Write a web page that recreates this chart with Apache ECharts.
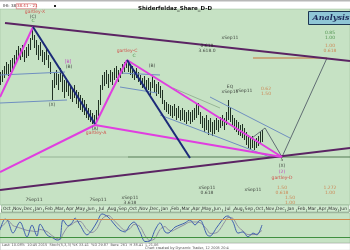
<!DOCTYPE html>
<html><head><meta charset="utf-8">
<script src="https://cdn.jsdelivr.net/npm/echarts@6/dist/echarts.min.js"></script>
<style>html,body{margin:0;padding:0;background:#fff}#c{width:350px;height:250px}</style>
</head><body><div id="c"></div>
<script>
// ---- price bars (daily highs / lows, one entry per bar) ----
const highs = [138,140,144,148,146,150,152,155,160,164,
  162,165,160,163,166,172,183,175,170,165,
  168,160,158,162,155,148,130,138,140,136,
  142,135,130,132,128,125,122,125,120,118,
  115,112,110,106,102,100,97,95,100,110,
  125,135,138,140,136,140,138,142,144,140,
  142,146,148,150,148,146,144,140,142,138,
  135,132,134,130,132,128,134,130,126,128,
  124,120,110,108,106,105,104,106,102,104,
  100,102,100,98,100,98,100,102,106,107,
  98,94,92,95,90,92,88,90,92,90,
  93,95,92,98,110,102,95,92,90,88,
  85,86,82,78,75,72,74,70,72,74,
  78,80];
const lows = [125,128,132,135,134,138,140,144,148,152,
  150,153,148,152,154,160,170,162,155,150,
  154,148,145,150,142,136,110,122,125,120,
  128,118,112,118,114,111,108,112,106,102,
  100,98,95,92,90,88,86,86,88,94,
  105,120,124,126,122,128,125,130,132,128,
  132,136,138,142,138,135,132,130,132,128,
  125,122,124,118,120,115,122,118,114,116,
  112,106,100,98,96,94,92,94,90,92,
  89,90,88,86,89,86,88,90,92,95,
  86,82,78,80,75,78,74,76,80,78,
  82,84,80,85,90,88,84,80,78,75,
  74,72,70,65,62,60,62,60,62,64,
  66,68];

// ---- trend lines / pattern legs (bar index, price) ----
const upperTrend = [[2.5,187],[175,149]];
const lowerTrend = [[0,20],[175,62]];
const gartleyLegs = [
  [[0,113],[16.5,183]],
  [[0,38],[47.5,85]],
  [[47.5,85],[63.5,150]],
  [[63.5,150],[141,53]],
  [[47.5,85],[141,53]]
];
const navyLegs = [
  [[16.5,183],[47.5,86]],
  [[63.5,150],[95,52]]
];
const channelLines = [
  [[0,135],[32.5,138]],
  [[0,107],[33.5,110]],
  [[60,137],[80,135]],
  [[60,123],[78.5,117]],
  [[80,95],[135,53]],
  [[105,113],[145,72]]
];
const helperLines = [
  [[86.5,122],[110,102]],
  [[20,53],[64,53]]
];
const projection = [[126,72],[132.5,82],[141,53],[163.5,152]];
const targetLevel = [[126.5,152],[163.5,152]];
const supportLevel = [[64,53],[175,53]];

// ---- annotations [bar index, price, text] ----
const redLabels = [[17.5,198,'gartley-X'],[48,77,'gartley-A'],[63.5,159,'gartley-C'],[141,32,'gartley-D']];
const darkLabels = [[16.5,193,'(C)'],[34.5,143,'(B)'],[26,105,'(X)'],[47.5,81,'(A)'],[76,144,'(B)'],
  [141,50,'5'],[141,44,'(X)'],
  [103.5,162,'0.618\n3.618.0'],[115,172,'xSep11'],[115,121,'EQ\nxSep11'],[122,119,'xSep11'],
  [17,10,'7Sep11'],[49,10,'7Sep11'],[65,10,'xSep11\n3.618'],[103.5,20,'xSep11\n0.618'],[126.5,20,'xSep11']];
const magentaLabels = [[34,148,'[B]'],[141,38,'(2)']];
const greenLabels = [[16.5,189,'C'],[67,154,'C'],[165,175,'0.85\n1.00']];
const orangeLabels = [[165,162,'1.00\n0.618'],[133,119,'0.62\n1.50'],[141,20,'1.50\n0.618'],[145,10,'1.50\n1.00'],[165,20,'1.272\n1.00']];

// ---- date strip ----
const months = ['Oct','Nov','Dec','Jan','Feb','Mar','Apr','May','Jun','Jul','Aug','Sep',
  'Oct','Nov','Dec','Jan','Feb','Mar','Apr','May','Jun','Jul','Aug','Sep',
  'Oct','Nov','Dec','Jan','Feb','Mar','Apr','May','Jun'];

// ---- stochastic oscillator ----
const stochX = [0,2.5,4,6.5,10,13.5,16,18.5,20,23.5,26.5,28.5,30,31.5,34,36,37.5,40,43.5,46,48.5,51,54,57.5,60,62.5,65,67,70,72.5,75,77.5,80,82.5,84,86,87.5,92.5,95,97.5,100,103.5,105,108.5,112.5,114,116.5,119,121.5,124,126.5,128.5,131];
const stochK = [43,80,73,33,70,20,60,23,63,27,17,10,13,77,57,67,83,60,27,43,70,97,87,60,43,37,60,70,37,5,7,43,67,37,33,43,53,67,77,60,77,27,23,53,87,90,70,33,37,20,33,27,60];
const stochD = [50,65,75,58,50,42,40,38,45,38,22,15,12,30,55,62,70,72,45,35,48,80,92,72,55,42,48,62,55,25,8,15,45,55,45,40,45,62,70,70,68,45,32,35,72,85,82,55,40,28,28,30,42];

const chart = echarts.init(document.getElementById('c'), null, {renderer:'canvas'});
const FONT = 'DejaVu Sans';
function seg(data, color, width, z){
  return {type:'line', xAxisIndex:0, yAxisIndex:0, data:data, showSymbol:false, symbol:'none',
    lineStyle:{color:color, width:width}, silent:true, z:z||3, animation:false};
}
function labels(arr, color, bold){
  return {type:'scatter', xAxisIndex:0, yAxisIndex:0, symbolSize:0, z:10, silent:true,
    data: arr.map(a => ({value:[a[0],a[1]], name:a[2]})),
    label:{show:true, position:'inside', formatter:p=>p.name, color:color, fontSize:4.5,
      lineHeight:5, fontFamily:FONT, fontWeight: bold?'bold':'normal'}};
}
const series = [];
series.push({type:'custom', xAxisIndex:0, yAxisIndex:0, z:2, silent:true,
  data: highs.map((h,i)=>[i,h,lows[i]]),
  renderItem:function(params, api){
    const a = api.coord([api.value(0), api.value(1)]);
    const b = api.coord([api.value(0), api.value(2)]);
    return {type:'line', shape:{x1:a[0]+0.5,y1:a[1],x2:b[0]+0.5,y2:b[1]}, style:{stroke:'#213224', lineWidth:1}};
  }});
helperLines.forEach(d=>series.push(seg(d,'#8aa88a',0.8,2)));
channelLines.forEach(d=>series.push(seg(d,'#6f8fc0',1,3)));
series.push(seg(supportLevel,'#557a55',1.2,3));
series.push(seg(targetLevel,'#c8743a',1,3));
series.push(seg(projection,'#55606a',0.9,3));
series.push(seg(upperTrend,'#5b2463',2,4));
series.push(seg(lowerTrend,'#5b2463',2,4));
gartleyLegs.forEach(d=>series.push(seg(d,'#e03ee0',2,5)));
navyLegs.forEach(d=>series.push(seg(d,'#1b2a78',2,5)));
series.push(labels(redLabels,'#d42a2a',false));
series.push(labels(darkLabels,'#1c1c1c',false));
series.push(labels(magentaLabels,'#c020c0',false));
series.push(labels(greenLabels,'#2f7f2f',false));
series.push(labels(orangeLabels,'#d0703a',false));
// date strip dummy
series.push({type:'line', xAxisIndex:1, yAxisIndex:1, data:[], silent:true});
// oscillator
series.push({type:'line', xAxisIndex:2, yAxisIndex:2, data: stochX.map((x,i)=>[x,stochD[i]]),
  showSymbol:false, smooth:0.3, lineStyle:{color:'#8e8ea0', width:1}, silent:true, z:3,
  markLine:{silent:true, symbol:'none', label:{show:false},
    data:[{yAxis:80, lineStyle:{color:'#d08a4a', width:1, type:'solid'}},
          {yAxis:20, lineStyle:{color:'#3f8f3f', width:1, type:'solid'}}]}});
series.push({type:'line', xAxisIndex:2, yAxisIndex:2, data: stochX.map((x,i)=>[x,stochK[i]]),
  showSymbol:false, smooth:0.3, lineStyle:{color:'#3f5fae', width:1}, silent:true, z:4});

chart.setOption({
  animation:false,
  backgroundColor:'#ffffff',
  title:{text:'Shiderfeldaz_Share_D-D', left:'center', top:1,
    textStyle:{fontSize:5.5, fontWeight:'bold', color:'#111', fontFamily:FONT}},
  grid:[
    {left:0, right:0, top:9, height:196, show:true, backgroundColor:'#c6e2c4', borderColor:'#9ab89a', borderWidth:0.5},
    {left:0, right:0, top:205, height:7, show:true, backgroundColor:'#d0e9cf', borderColor:'#7f9f7f', borderWidth:0.5},
    {left:0, right:0, top:213, height:30, show:true, backgroundColor:'#c6e2c4', borderColor:'#9ab89a', borderWidth:0.5}
  ],
  xAxis:[
    {type:'value', gridIndex:0, min:0, max:175, show:false},
    {type:'category', gridIndex:1, data:months, boundaryGap:true,
      axisLine:{show:true, lineStyle:{color:'#6f8f6f', width:0.5}},
      axisTick:{show:true, inside:true, length:3, interval:0, lineStyle:{color:'#4f6f4f', width:0.5}},
      axisLabel:{show:true, inside:true, interval:0, margin:1, fontSize:4.5, color:'#333', fontFamily:FONT},
      splitLine:{show:false}},
    {type:'value', gridIndex:2, min:0, max:175, show:false}
  ],
  yAxis:[
    {type:'value', gridIndex:0, min:5, max:201, show:false},
    {type:'value', gridIndex:1, show:false},
    {type:'value', gridIndex:2, min:0, max:100, show:false}
  ],
  graphic:[
    {type:'rect', left:0, top:0, shape:{width:350, height:1.5}, style:{fill:'#b8b8b8'}, z:100},
    {type:'text', left:3, top:4, style:{text:'IHI: 38', fontSize:4, fill:'#333', fontFamily:FONT}, z:100},
    {type:'rect', left:16, top:3.5, shape:{width:20, height:5}, style:{fill:'#fff', stroke:'#c44', lineWidth:0.5}, z:100},
    {type:'text', left:17, top:4, style:{text:'38.41 - 21', fontSize:4, fill:'#c33', fontFamily:FONT}, z:101},
    {type:'rect', left:54, top:5, shape:{width:2, height:2}, style:{fill:'#222'}, z:100},
    {type:'group', left:308, top:11, z:100, children:[
      {type:'rect', shape:{x:0,y:0,width:44,height:13}, style:{fill:'#8fc6d6', stroke:'#1d3552', lineWidth:1}},
      {type:'text', x:4, y:2.5, style:{text:'Analysis by:', fontSize:8, fontStyle:'italic', fontWeight:'bold', fill:'#1d2a58', fontFamily:'DejaVu Serif'}}
    ]},
    {type:'rect', left:0, top:243, shape:{width:350, height:7}, style:{fill:'#ffffff', stroke:'#aaa', lineWidth:0.5}, z:100},
    {type:'text', left:2, top:243.5, style:{text:'Last: 10.08%  10:45 2015  Stoch(5,3,3) %K 33.41  %D 29.87  Bars: 261  H 38.41  L 21.06', fontSize:3.5, fill:'#555', fontFamily:FONT}, z:101},
    {type:'text', left:145, top:246, style:{text:'Chart created by Dynamic Trader, 12 2005 20:4', fontSize:3.5, fill:'#555', fontFamily:FONT}, z:101}
  ],
  series:series
});
</script></body></html>
